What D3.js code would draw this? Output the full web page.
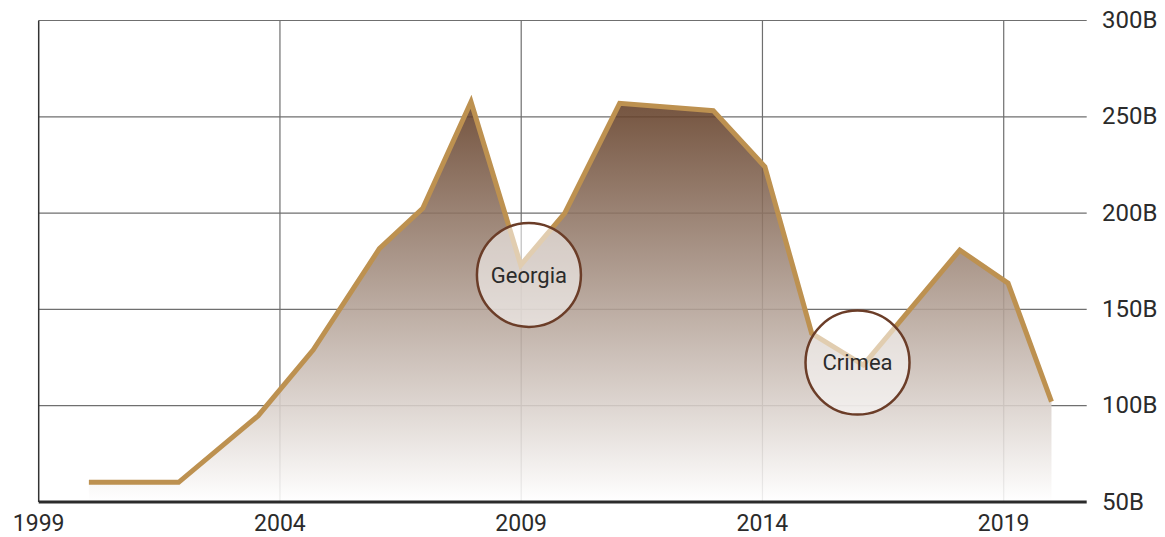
<!DOCTYPE html>
<html>
<head>
<meta charset="utf-8">
<script src="https://cdn.jsdelivr.net/npm/d3@7"></script>
<style>
  body { margin: 0; background: #fff; }
  svg text { font-family: Roboto, "Noto Sans", sans-serif; fill: #2b2b2b; }
</style>
</head>
<body>
<svg id="chart" width="1165" height="537"></svg>
<script>
// values (years as fractional dates, values in billions)
const years = [2000.04, 2001.9, 2003.55, 2004.69, 2006.06, 2006.96, 2007.96, 2008.99, 2009.9,
               2011.04, 2012.98, 2014.05, 2015.02, 2016.09, 2018.09, 2019.09, 2019.99];
const values = [60.2, 60.2, 94.8, 129, 181.5, 202.5, 257.8, 173, 199.9,
                257, 253.2, 224.1, 137.6, 121.1, 180.8, 163.6, 102.1];

const xTicks = [1999, 2004, 2009, 2014, 2019];
const yTicks = [50, 100, 150, 200, 250, 300];

const noteLabels = ['Georgia', 'Crimea'];
const noteYears = [2009.16, 2015.97];
const noteValues = [167.9, 122.4];

const data = years.map((y, i) => ({ year: y, value: values[i] }));

let plotLeft = 38.7, plotRight = 1086.7, plotTop = 20.5, plotBottom = 502;

let x = d3.scaleLinear().domain([1999, 2020.72]).range([plotLeft, plotRight]);
let y = d3.scaleLinear().domain([50, 300]).range([plotBottom, plotTop]);

let svg = d3.select('#chart');

// gradient for the area
let grad = svg.append('defs').append('linearGradient')
  .attr('id', 'fade')
  .attr('gradientUnits', 'userSpaceOnUse')
  .attr('x1', 0).attr('x2', 0)
  .attr('y1', y(262)).attr('y2', y(50));
grad.append('stop').attr('offset', 0).attr('stop-color', '#5e3820');
grad.append('stop').attr('offset', 1).attr('stop-color', '#ffffff');

// grid
svg.append('g')
  .selectAll('line')
  .data(yTicks.filter(d => d > 50))
  .enter()
  .append('line')
  .attr('x1', plotLeft).attr('x2', plotRight)
  .attr('y1', d => y(d)).attr('y2', d => y(d))
  .attr('stroke', '#6f6f6f').attr('stroke-width', 1.2);

svg.append('g')
  .selectAll('line')
  .data(xTicks.slice(1))
  .enter()
  .append('line')
  .attr('x1', d => x(d)).attr('x2', d => x(d))
  .attr('y1', plotTop).attr('y2', plotBottom)
  .attr('stroke', '#6f6f6f').attr('stroke-width', 1.2);

// area + line
let area = d3.area().x(d => x(d.year)).y0(y(50)).y1(d => y(d.value));
let line = d3.line().x(d => x(d.year)).y(d => y(d.value));

svg.append('path').datum(data)
  .attr('d', area)
  .attr('fill', 'url(#fade)')
  .attr('fill-opacity', 0.88);

svg.append('path').datum(data)
  .attr('d', line)
  .attr('fill', 'none')
  .attr('stroke', '#bd9150')
  .attr('stroke-width', 5)
  .attr('stroke-linejoin', 'miter');

// axes
svg.append('line')
  .attr('x1', plotLeft).attr('x2', plotLeft).attr('y1', plotTop).attr('y2', plotBottom)
  .attr('stroke', '#333').attr('stroke-width', 1.5);
svg.append('line')
  .attr('x1', plotLeft).attr('x2', plotRight).attr('y1', plotBottom).attr('y2', plotBottom)
  .attr('stroke', '#2b2b2b').attr('stroke-width', 3);

svg.append('g')
  .selectAll('text')
  .data(xTicks)
  .enter()
  .append('text')
  .attr('x', d => x(d))
  .attr('y', 531)
  .attr('text-anchor', 'middle')
  .style('font-size', '23px')
  .text(d => d);

svg.append('g')
  .selectAll('text')
  .data(yTicks)
  .enter()
  .append('text')
  .attr('x', 1102)
  .attr('y', d => y(d))
  .attr('dy', '0.32em')
  .style('font-size', '24px')
  .text(d => d + 'B');

// annotations
let notes = svg.append('g')
  .selectAll('g')
  .data(noteLabels)
  .enter()
  .append('g')
  .attr('transform', (d, i) => `translate(${x(noteYears[i])},${y(noteValues[i])})`);

notes.append('circle')
  .attr('r', 52)
  .attr('fill', '#fff')
  .attr('fill-opacity', 0.55)
  .attr('stroke', '#6b3d28')
  .attr('stroke-width', 2.5);

notes.append('text')
  .attr('text-anchor', 'middle')
  .attr('dy', '0.36em')
  .style('font-size', '22px')
  .text(d => d);
</script>
</body>
</html>
